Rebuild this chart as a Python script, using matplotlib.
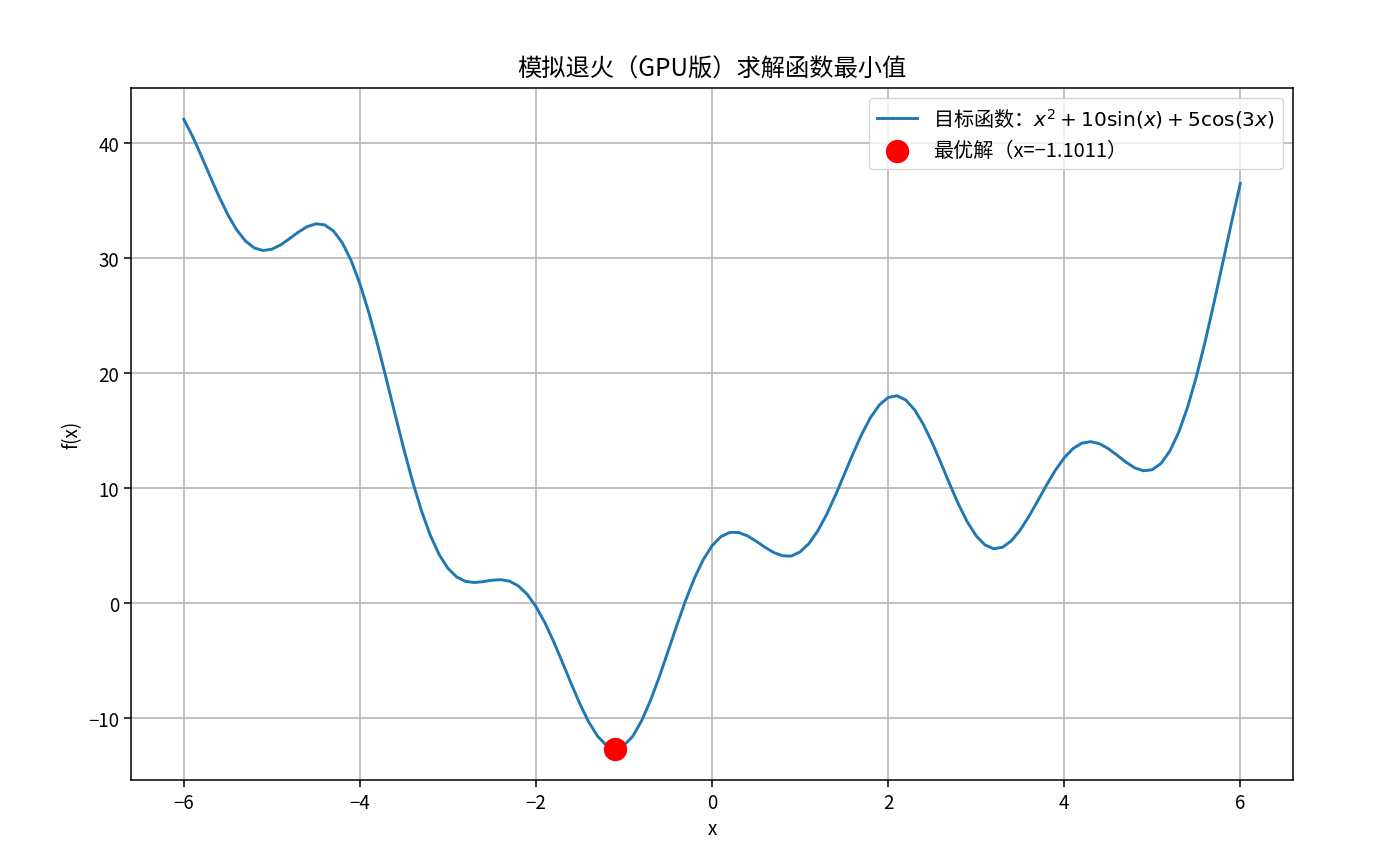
import matplotlib
matplotlib.use("Agg")
import matplotlib.pyplot as plt

plt.rcParams['font.family'] = ['Noto Sans CJK SC', 'DejaVu Sans']
plt.rcParams['axes.unicode_minus'] = True

# curve values, x from -6 to 6 in steps of 0.1
x_vals = [round(-6 + 0.1 * i, 1) for i in range(121)]
y_vals = [
    42.096, 40.596, 38.891, 37.108, 35.369, 33.793, 32.481, 31.505, 30.904, 30.679,
    30.791, 31.165, 31.703, 32.275, 32.749, 33.000, 32.906, 32.376, 31.353, 29.817,
    27.787, 25.326, 22.528, 19.510, 16.414, 13.380, 10.544, 8.022, 5.900, 4.233,
    3.033, 2.277, 1.894, 1.799, 1.875, 1.999, 2.047, 1.912, 1.506, 0.777,
    -0.292, -1.679, -3.325, -5.137, -6.998, -8.779, -10.346, -11.575, -12.364, -12.640,
    -12.365, -11.570, -10.221, -8.477, -6.422, -4.191, -1.922, 0.243, 2.180, 3.788,
    5.000,
    5.785, 6.153, 6.153, 5.866, 5.398, 4.870, 4.408, 4.127, 4.097, 4.465,
    5.185, 6.277, 7.696, 9.363, 11.171, 12.993, 14.697, 16.152, 17.247, 17.894,
    18.041, 17.676, 16.826, 15.556, 13.968, 12.185, 10.346, 8.593, 7.062, 5.856,
    5.065, 4.733, 4.867, 5.433, 6.365, 7.563, 8.913, 10.290, 11.570, 12.651,
    13.451, 13.921, 14.053, 13.874, 13.449, 12.876, 12.277, 11.779, 11.516, 11.612,
    12.163, 13.235, 14.859, 17.026, 19.683, 22.743, 26.094, 29.599, 33.118, 36.507,
]
best_x = -1.1011
best_y = -12.64

fig, ax = plt.subplots(figsize=(13.86, 8.62), dpi=100)
fig.subplots_adjust(left=0.0945, right=0.933, top=0.897, bottom=0.094)

ax.plot(x_vals, y_vals, color='#1f77b4', linewidth=2.1,
        label=r'目标函数：$x^2 + 10\sin(x) + 5\cos(3x)$')
ax.scatter([best_x], [best_y], color='red', s=250, zorder=5,
           label=f'最优解（x=\u2212{abs(best_x):.4f}）')

ax.set_title('模拟退火（GPU版）求解函数最小值', fontsize=17.5, pad=9)
ax.set_xlabel('x', fontsize=13.5)
ax.set_ylabel('f(x)', fontsize=13.5)
ax.tick_params(labelsize=13.5, length=5, width=1.1)
ax.grid(True, color='#b0b0b0', linewidth=1.1)
for s in ax.spines.values():
    s.set_linewidth(1.1)
ax.legend(loc='upper right', fontsize=14.5)

plt.savefig('out.png', dpi=100)
plt.close()
